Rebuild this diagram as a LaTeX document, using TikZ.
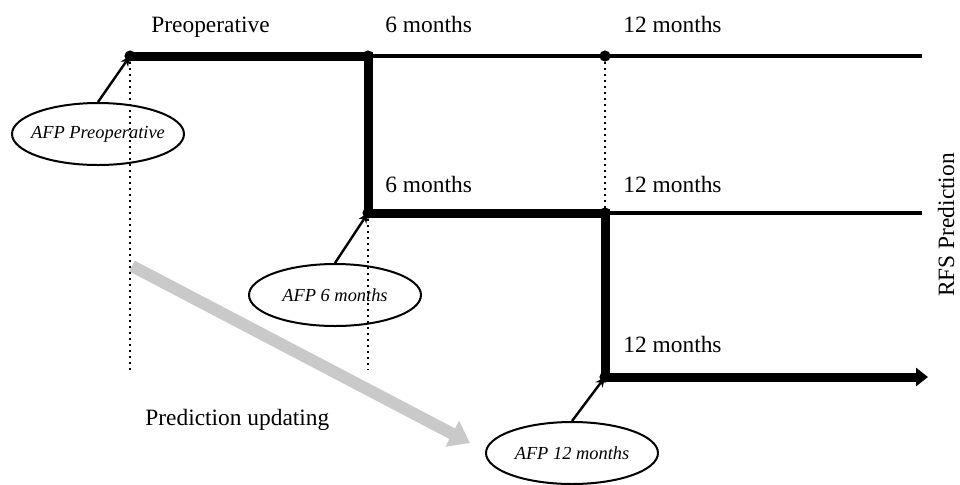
\documentclass[tikz,border=0pt]{standalone}
\usepackage{fontspec}
\setmainfont{Liberation Serif}
\usetikzlibrary{shapes,arrows.meta,positioning}
\definecolor{updgray}{RGB}{200,201,200}

\tikzset{
  thinline/.style={line width=2.2pt},
  thickline/.style={line width=4.5pt},
  guide/.style={line width=0.8pt, dash pattern=on 0.8pt off 2.2pt},
  afp/.style={ellipse, draw, line width=1pt, minimum width=86pt, minimum height=31pt,
    inner xsep=-4pt, inner ysep=2pt, font=\fontsize{9.2}{11}\selectfont\itshape},
  lbl/.style={anchor=base west, inner sep=0pt, font=\fontsize{11.7}{14}\selectfont},
  pointer/.style={-{Stealth[length=5pt,width=4.5pt]}, line width=1.2pt},
}

\begin{document}
\begin{tikzpicture}[x=0.5pt, y=-0.5pt]
      \useasboundingbox (0,0) rectangle (960,484);

      \coordinate (pre) at (130,56);
      \coordinate (top6) at (368,56);
      \coordinate (top12) at (605,56);
      \coordinate (mid6) at (368,213);
      \coordinate (mid12) at (605,213);
      \coordinate (bot12) at (605,377);
      \coordinate (topend) at (922,56);
      \coordinate (midend) at (922,213);
      \coordinate (botend) at (928,377);
      \coordinate (upd0) at (132,266);
      \coordinate (upd1) at (470,443);

      \draw[guide] (pre) -- (130,370);
      \draw[guide] (mid6) -- (368,370);
      \draw[guide] (top12) -- (mid12);

      \draw[thinline] (top6) -- (topend);
      \draw[thinline] (mid12) -- (midend);
      \draw[thickline, -{Triangle[length=6pt,width=9pt]}] (pre) -- (top6) -- (mid6) -- (mid12) -- (bot12) -- (botend);

      \foreach \p in {pre,top6,top12,mid6,mid12,bot12}
        \fill (\p) circle (2.8pt);

      \draw[updgray, line width=6pt, -{Triangle[length=10pt,width=14pt]}] (upd0) -- (upd1);

      \node[afp] (afppre) at (98,134) {AFP Preoperative};
      \node[afp] (afp6) at (335,295) {AFP 6 months};
      \node[afp] (afp12) at (572,453) {AFP 12 months};

      \draw[pointer] (afppre.north) -- (pre);
      \draw[pointer] (afp6.north) -- (mid6);
      \draw[pointer] (afp12.north) -- (bot12);

      \node[lbl] (lpre) at (151,32) {Preoperative};
      \node[lbl] (ltop6) at (385,32) {6 months};
      \node[lbl] (ltop12) at (623,32) {12 months};
      \node[lbl] (lmid6) at (385,192) {6 months};
      \node[lbl] (lmid12) at (623,192) {12 months};
      \node[lbl] (lbot12) at (623,352) {12 months};
      \node[lbl] (lupd) at (145,425) {Prediction updating};
      \node[rotate=90, font=\fontsize{11.7}{14}\selectfont] (rfs) at (946,225) {RFS Prediction};

    \end{tikzpicture}
\end{document}
